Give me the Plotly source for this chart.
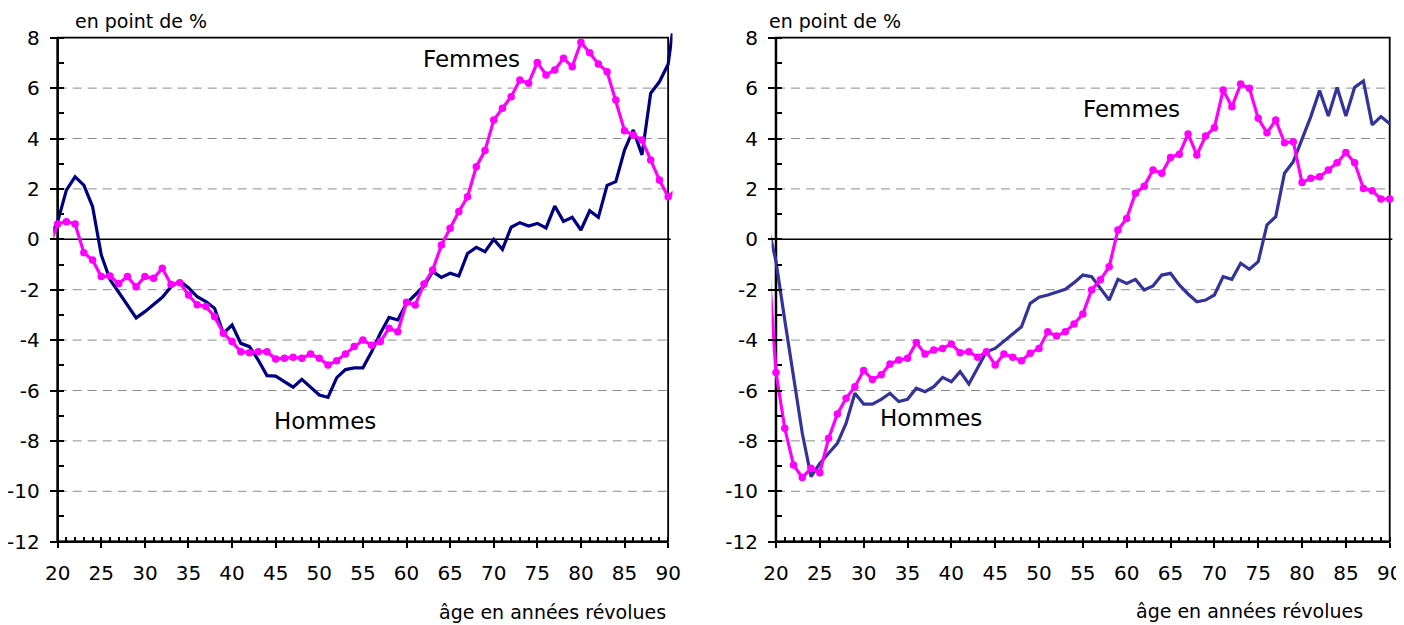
import plotly.graph_objects as go

# ---------------- data ----------------
ages_left = list(range(19, 92))
hommes_left = [0.05, 0.7, 1.95, 2.48, 2.15, 1.3, -0.62, -1.6, -2.1, -2.6,
               -3.12, -2.87, -2.57, -2.3, -1.88, -1.65, -1.92, -2.28, -2.47, -2.74,
               -3.73, -3.4, -4.13, -4.26, -4.79, -5.41, -5.43, -5.65, -5.87, -5.56,
               -5.87, -6.18, -6.27, -5.49, -5.17, -5.1, -5.1, -4.46, -3.73, -3.1,
               -3.2, -2.54, -2.2, -1.85, -1.28, -1.51, -1.35, -1.46, -0.56, -0.32,
               -0.49, 0.0, -0.4, 0.48, 0.66, 0.53, 0.63, 0.45, 1.32, 0.71,
               0.87, 0.37, 1.13, 0.87, 2.14, 2.29, 3.54, 4.34, 3.35, 5.8,
               6.25, 6.95, 9.5]
femmes_left = [-0.3, 0.61, 0.7, 0.61, -0.53, -0.82, -1.48, -1.46, -1.75, -1.48,
               -1.88, -1.48, -1.55, -1.15, -1.79, -1.72, -2.21, -2.6, -2.67, -3.07,
               -3.73, -4.06, -4.46, -4.5, -4.46, -4.46, -4.75, -4.72, -4.68, -4.72,
               -4.55, -4.72, -4.99, -4.82, -4.55, -4.25, -4.0, -4.2, -4.06, -3.53,
               -3.67, -2.5, -2.61, -1.77, -1.22, -0.23, 0.44, 1.1, 1.69, 2.88,
               3.52, 4.73, 5.2, 5.66, 6.32, 6.19, 7.02, 6.52, 6.72, 7.18,
               6.85, 7.82, 7.4, 6.96, 6.65, 5.53, 4.31, 4.14, 3.94, 3.15,
               2.35, 1.69, 2.0]

ages_right = list(range(19, 91))
hommes_right = [0.67, -0.87, -3.2, -5.5, -7.7, -9.42, -8.9, -8.49, -8.1, -7.3,
                -6.11, -6.54, -6.54, -6.35, -6.11, -6.44, -6.35, -5.91, -6.05, -5.85,
                -5.48, -5.65, -5.25, -5.74, -5.12, -4.46, -4.33, -4.04, -3.77, -3.47,
                -2.54, -2.3, -2.21, -2.1, -1.98, -1.72, -1.42, -1.48, -1.94, -2.41,
                -1.59, -1.75, -1.59, -2.01, -1.85, -1.42, -1.35, -1.81, -2.17, -2.48,
                -2.41, -2.21, -1.48, -1.59, -0.95, -1.19, -0.89, 0.57, 0.9, 2.62,
                3.08, 3.94, 4.87, 5.9, 4.89, 6.03, 4.89, 6.03, 6.28, 4.54,
                4.87, 4.59]
femmes_right = [-0.1, -5.29, -7.5, -8.96, -9.45, -9.09, -9.26, -7.9, -6.93, -6.31,
                -5.85, -5.21, -5.56, -5.38, -4.95, -4.79, -4.72, -4.1, -4.55, -4.39,
                -4.33, -4.15, -4.5, -4.46, -4.68, -4.46, -4.99, -4.55, -4.68, -4.82,
                -4.52, -4.33, -3.67, -3.84, -3.67, -3.36, -2.96, -2.01, -1.61, -1.09,
                0.37, 0.83, 1.83, 2.11, 2.75, 2.62, 3.25, 3.38, 4.18, 3.35,
                4.1, 4.43, 5.92, 5.26, 6.16, 5.99, 4.8, 4.23, 4.73, 3.83,
                3.87, 2.25, 2.42, 2.48, 2.75, 3.04, 3.44, 3.04, 2.02, 1.93,
                1.6, 1.6]

y_ticks = list(range(-12, 9, 2))
y_ticktext = [str(v) for v in y_ticks]
x_ticks = list(range(20, 91, 5))
x_ticktext = [str(v) for v in x_ticks]
x_min, x_max = 20, 90
y_min, y_max = -12, 8

# ---------------- figure ----------------
# the page body has an 8px default margin: the figure is sized and placed to fill
# the 1404x625 window from that offset
PAGE_W, PAGE_H = 1404, 625
OFF = 8
W, H = PAGE_W - OFF, PAGE_H - OFF
FONT = "DejaVu Sans"


def fx(p):
    return (p - OFF) / W


def fy(p):
    return 1 - (p - OFF) / H


NAVY_L = "#000080"
NAVY_R = "#333399"
PINK = "#FF00FF"

fig = go.Figure()
fig.add_trace(go.Scatter(x=ages_left, y=hommes_left, mode="lines",
                         line=dict(color=NAVY_L, width=3.2), xaxis="x", yaxis="y",
                         name="Hommes", showlegend=False))
fig.add_trace(go.Scatter(x=ages_left, y=femmes_left, mode="lines+markers",
                         line=dict(color=PINK, width=3.2),
                         marker=dict(size=7.5, color=PINK), xaxis="x", yaxis="y",
                         name="Femmes", showlegend=False))
fig.add_trace(go.Scatter(x=ages_right, y=hommes_right, mode="lines",
                         line=dict(color=NAVY_R, width=3.2), xaxis="x2", yaxis="y2",
                         name="Hommes", showlegend=False))
fig.add_trace(go.Scatter(x=ages_right, y=femmes_right, mode="lines+markers",
                         line=dict(color=PINK, width=3.2),
                         marker=dict(size=7.5, color=PINK), xaxis="x2", yaxis="y2",
                         name="Femmes", showlegend=False))

pad_x = 0.5
pad_y = 0.175
tickfont = dict(family=FONT, size=20, color="black")


def xaxis_cfg(dom):
    return dict(domain=dom, range=[x_min - pad_x, x_max + pad_x],
                anchor="free", position=fy(541.7), automargin=False,
                tickmode="array", tickvals=x_ticks, ticktext=x_ticktext,
                ticks="outside", ticklen=5, tickwidth=1.5, tickcolor="black",
                minor=dict(ticks="inside", ticklen=5, tickwidth=1.5, tickcolor="black",
                           tickmode="linear", tick0=0, dtick=1),
                showline=False, showgrid=False, zeroline=False,
                tickfont=tickfont, ticklabelstandoff=8, fixedrange=True)


def yaxis_cfg(dom_pos):
    return dict(domain=[fy(546.1), fy(33.3)], range=[y_min - pad_y, y_max + pad_y],
                anchor="free", position=dom_pos, automargin=False,
                tickmode="array", tickvals=y_ticks, ticktext=y_ticktext,
                ticks="outside", ticklen=8, tickwidth=1.5, tickcolor="black",
                minor=dict(ticks="inside", ticklen=5, tickwidth=1.5, tickcolor="black",
                           tickmode="linear", tick0=0, dtick=1),
                showline=False, showgrid=False, zeroline=False,
                tickfont=tickfont, ticklabelstandoff=6, fixedrange=True)


shapes = []
for xr, yr in (("x", "y"), ("x2", "y2")):
    # dashed grid lines
    for v in y_ticks:
        if v in (y_min, y_max, 0):
            continue
        shapes.append(dict(type="line", xref=xr, yref=yr, x0=x_min, x1=x_max, y0=v, y1=v,
                           line=dict(color="#8c8c8c", width=1, dash="9px,6px"), layer="below"))
    # zero line
    shapes.append(dict(type="line", xref=xr, yref=yr, x0=x_min, x1=x_max + 0.3, y0=0, y1=0,
                       line=dict(color="black", width=1.6), layer="below"))
    # frame
    shapes.append(dict(type="rect", xref=xr, yref=yr, x0=x_min, x1=x_max, y0=y_min, y1=y_max,
                       line=dict(color="black", width=1.8), layer="below"))
    # axis lines
    shapes.append(dict(type="line", xref=xr, yref=yr, x0=x_min, x1=x_min, y0=y_min, y1=y_max,
                       line=dict(color="black", width=2.5), layer="below"))
    shapes.append(dict(type="line", xref=xr, yref=yr, x0=x_min, x1=x_max, y0=y_min, y1=y_min,
                       line=dict(color="black", width=2.5), layer="below"))

annots = []


def txt(text, x, y, size, xanchor="center"):
    annots.append(dict(text=text, xref="paper", yref="paper", x=fx(x), y=fy(y),
                       xanchor=xanchor, yanchor="middle", showarrow=False,
                       font=dict(family=FONT, size=size, color="black")))


txt("en point de %", 72.5, 21, 19, "left")
txt("en point de %", 766.5, 21, 19, "left")
txt("Femmes", 471, 59, 23)
txt("Hommes", 324.5, 421, 23)
txt("Femmes", 1131, 109.5, 23)
txt("Hommes", 930.7, 418, 23)
txt("âge en années révolues", 668, 612, 19, "right")
txt("âge en années révolues", 1365, 611, 19, "right")

fig.update_layout(
    width=W, height=H,
    margin=dict(l=0, r=0, t=0, b=0, pad=0, autoexpand=False),
    paper_bgcolor="white", plot_bgcolor="white",
    showlegend=False,
    xaxis=xaxis_cfg([fx(53.3), fx(672.5)]),
    yaxis=yaxis_cfg(fx(57.7)),
    xaxis2=xaxis_cfg([fx(771.6), fx(1394.1)]),
    yaxis2=yaxis_cfg(fx(776.0)),
    shapes=shapes,
    annotations=annots,
)

fig.write_html("out.html")
